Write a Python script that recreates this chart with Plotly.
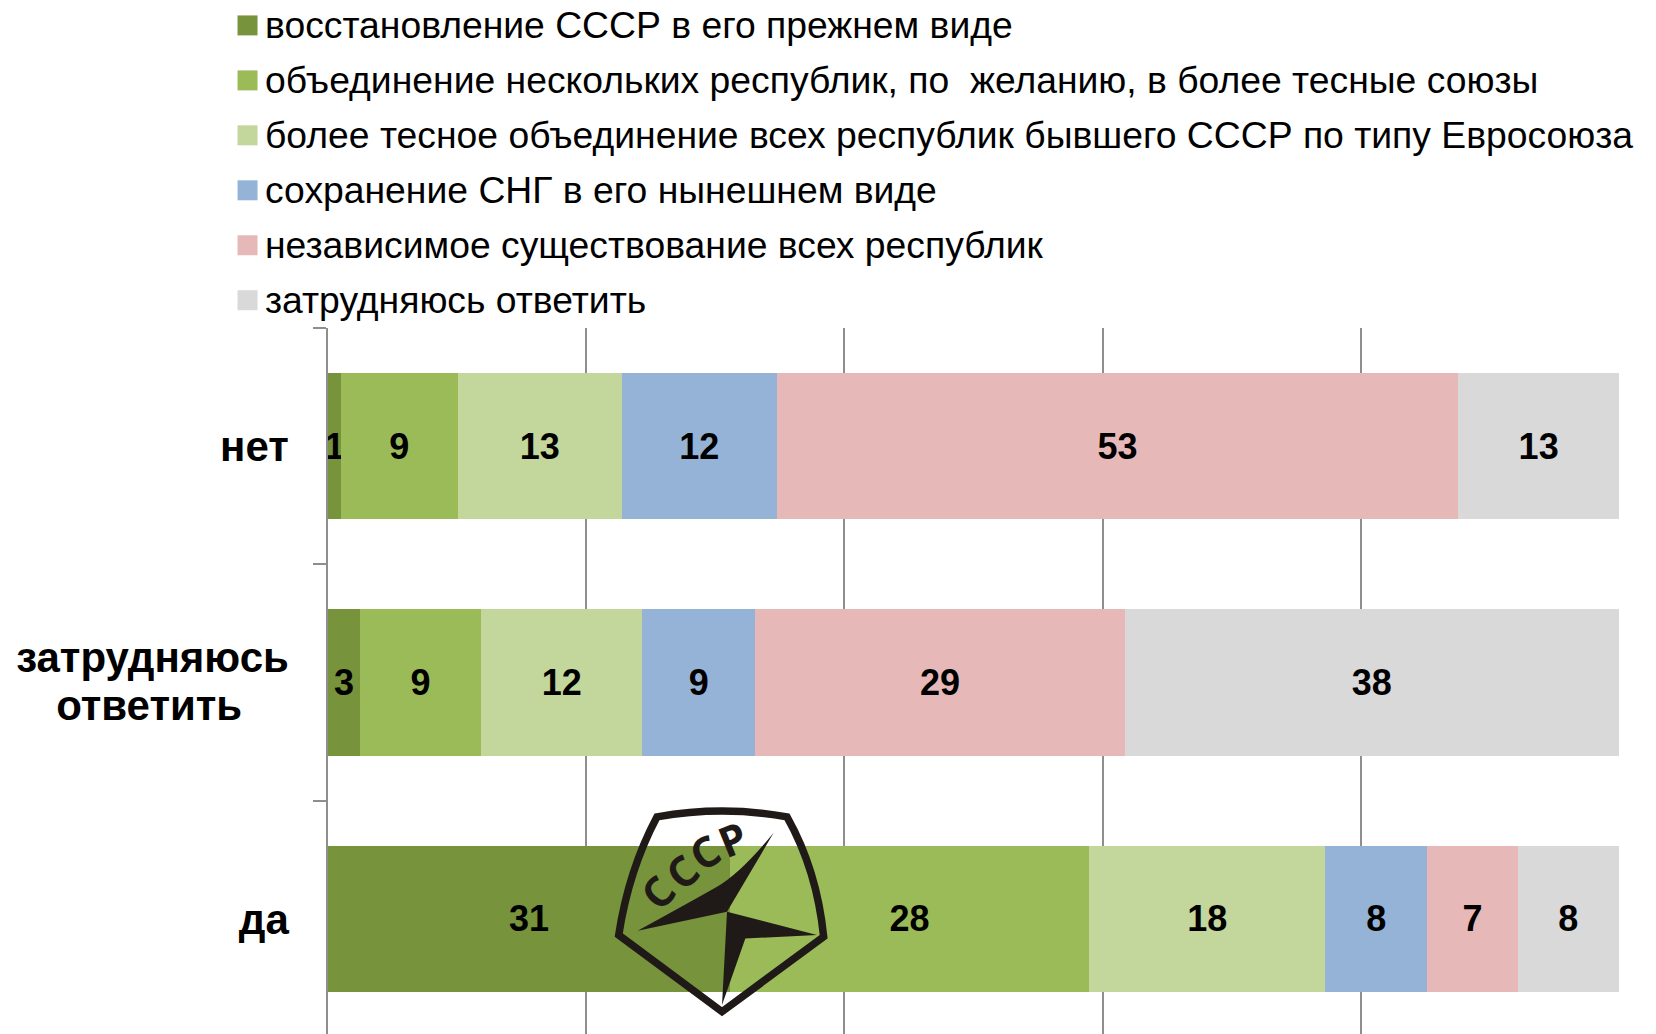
import plotly.graph_objects as go

W, H = 1656, 1034
L, R, T, B = 327.5, 37, 327.5, 0

categories = ["да", "затрудняюсь<br>ответить\u00a0\u00a0\u00a0\u00a0", "нет"]
series_names = [
    "восстановление СССР в его прежнем виде",
    "объединение нескольких республик, по  желанию, в более тесные союзы",
    "более тесное объединение всех республик бывшего СССР по типу Евросоюза",
    "сохранение СНГ в его нынешнем виде",
    "независимое существование всех республик",
    "затрудняюсь ответить",
]
colors = ["#77933C", "#9BBB59", "#C3D69B", "#95B3D7", "#E6B9B8", "#D9D9D9"]

restore = [31.15, 2.5, 1.0]
several = [27.8, 9.35, 9.05]
closer = [18.3, 12.5, 12.7]
keep = [7.9, 8.75, 12.0]
independent = [7.0, 28.6, 52.8]
unsure = [7.85, 38.3, 12.45]
values = [restore, several, closer, keep, independent, unsure]

labels_restore = [31, 3, 1]
labels_several = [28, 9, 9]
labels_closer = [18, 12, 13]
labels_keep = [8, 9, 12]
labels_independent = [7, 29, 53]
labels_unsure = [8, 38, 13]
labels = [labels_restore, labels_several, labels_closer, labels_keep, labels_independent, labels_unsure]

pw, ph = W - L - R, H - T - B
def px(x): return (x - L) / pw
def py(y): return 1 - (y - T) / ph

fig = go.Figure()
for name, vals, lab, col in zip(series_names, values, labels, colors):
    fig.add_trace(go.Bar(
        y=categories, x=vals, name=name, orientation="h",
        marker=dict(color=col, line=dict(width=0)),
        text=[str(v) for v in lab], textposition="inside", insidetextanchor="middle",
        textangle=0, constraintext="none", cliponaxis=False,
        textfont=dict(family="Liberation Sans", size=36, color="#000000", weight="bold"),
        showlegend=False,
    ))

shapes, annotations = [], []
# legend
legend_y = [24.7, 79.7, 134.7, 189.7, 244.7, 299.7]
for name, col, yc in zip(series_names, colors, legend_y):
    shapes.append(dict(type="rect", xref="paper", yref="paper", x0=px(237), x1=px(257),
                       y0=py(yc - 10), y1=py(yc + 10), fillcolor=col, line=dict(width=0)))
    annotations.append(dict(text=name.replace("  ", "\u00a0 "), xref="paper", yref="paper", x=px(262), y=py(yc),
                            xanchor="left", yanchor="middle", showarrow=False, align="left",
                            font=dict(family="Liberation Sans", size=37.3, color="#000000")))

# logo
def P(x, y):
    return f"{px(560 + x / 3):.5f},{py(760 + y / 3):.5f}"

outline = (f"M{P(290,170)} Q{P(485,135)} {P(680,170)} Q{P(770,330)} {P(790,530)} "
           f"L{P(485,755)} L{P(175,525)} Q{P(205,330)} {P(290,170)} Z")
shapes.append(dict(type="path", xref="paper", yref="paper", path=outline,
                   line=dict(color="#1F1A17", width=7.5), fillcolor="rgba(0,0,0,0)"))
blade1 = f"M{P(232,512)} Q{P(400,420)} {P(470,380)} Q{P(540,340)} {P(640,218)} L{P(500,455)} Z"
blade2 = f"M{P(500,455)} L{P(770,525)} L{P(555,535)} L{P(485,735)} Z"
for b in (blade1, blade2):
    shapes.append(dict(type="path", xref="paper", yref="paper", path=b,
                       fillcolor="#1F1A17", line=dict(width=0)))
for ch, (x, y), ang in zip("СССР", [(292, 395), (362, 333), (432, 275), (515, 235)], [-48, -42, -30, -22]):
    annotations.append(dict(text=ch, xref="paper", yref="paper", x=px(560 + x / 3), y=py(760 + y / 3),
                            xanchor="center", yanchor="middle", showarrow=False, textangle=ang,
                            font=dict(family="Open Sans", size=42, color="#1F1A17", weight="bold")))

fig.update_layout(
    width=W, height=H, barmode="stack", barnorm="percent", bargap=0.38,
    margin=dict(l=L, r=R, t=T, b=B, pad=0, autoexpand=False),
    paper_bgcolor="#FFFFFF", plot_bgcolor="#FFFFFF",
    shapes=shapes, annotations=annotations,
    xaxis=dict(range=[0, 100], dtick=20, showticklabels=False, showgrid=True,
               gridcolor="#8E8E8E", gridwidth=1.5, zeroline=False, ticks=""),
    yaxis=dict(range=[-0.487, 2.5], categoryorder="array", categoryarray=categories,
               showline=True, linecolor="#8E8E8E", linewidth=1.5, showgrid=False,
               ticks="outside", ticklen=13, tickcolor="#8E8E8E", tickwidth=1.5, tickson="boundaries",
               ticklabelstandoff=29,
               tickfont=dict(family="Liberation Sans", size=42, color="#000000", weight="bold")),
    font=dict(family="Liberation Sans"),
)
fig.write_html(
    "out.html",
    config={"displayModeBar": False},
    post_script="document.body.style.margin='0';document.body.style.overflow='hidden';"
                "document.querySelectorAll('.ytick text tspan.line').forEach(function(t){"
                "var d=t.getAttribute('dy');if(d&&parseFloat(d)>0){t.setAttribute('dy','1.14em');"
                "var p=t.parentNode;p.setAttribute('transform',(p.getAttribute('transform')||'')+' translate(0,2)');}});",
)
